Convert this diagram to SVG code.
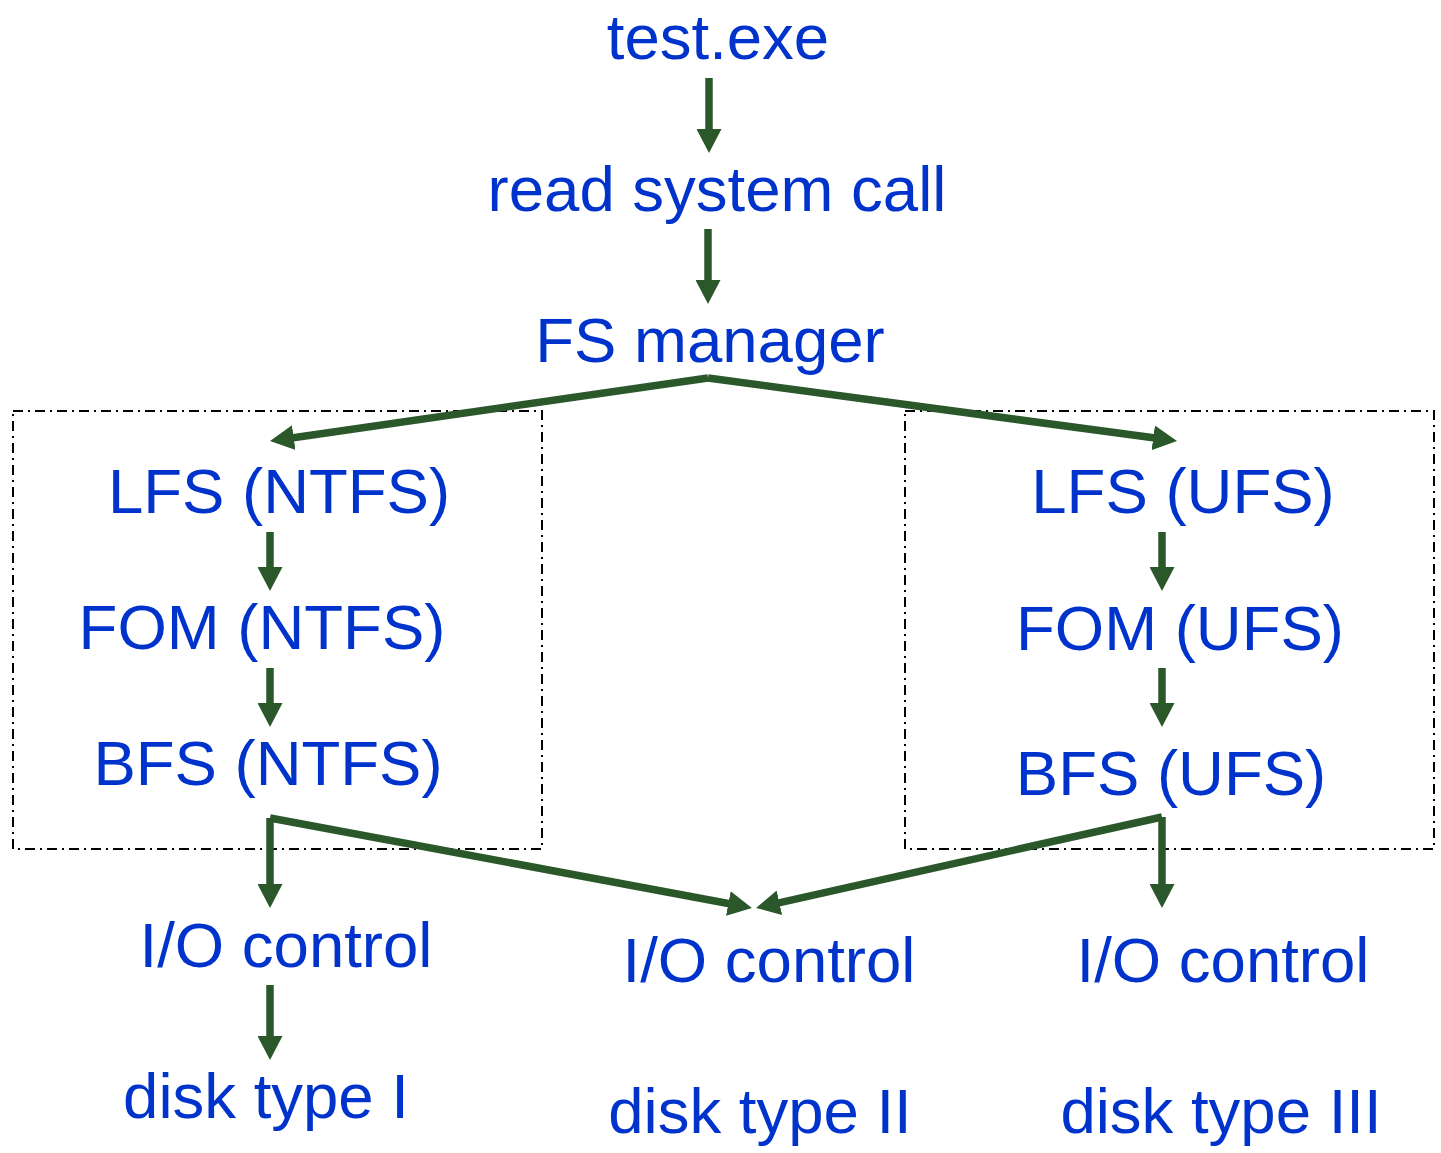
<svg xmlns="http://www.w3.org/2000/svg" width="1441" height="1153" viewBox="0 0 1441 1153">
<style>
.t{font-family:"Liberation Sans",Arial,sans-serif;font-size:63.5px;fill:#0033CC;text-anchor:middle}
.c{fill:none;stroke:#2A582A;stroke-width:7.5;marker-end:url(#ah)}
.box{fill:none;stroke:#000;stroke-width:2;stroke-dasharray:10 5 2 5}
</style>
<defs>
<marker id="ah" markerUnits="userSpaceOnUse" viewBox="0 0 24 25" markerWidth="24" markerHeight="25" refX="4" refY="12.5" orient="auto">
<path d="M0,0 L24,12.5 L0,25 z" fill="#2A582A"/>
</marker>
</defs>
<rect width="1441" height="1153" fill="#fff"/>
<g id="groups">
<rect id="box-ntfs" class="box" x="13" y="411" width="529" height="438"/>
<rect id="box-ufs" class="box" x="905" y="411" width="529" height="438"/>
</g>
<g id="connectors">
<path class="c" d="M709,78 V133"/>
<path class="c" d="M708,229 V284"/>
<path class="c" d="M708,378 L289.8,438.2"/>
<path class="c" d="M708,378 L1157.2,438.3"/>
<path class="c" d="M270,532 V571"/>
<path class="c" d="M270,668 V707"/>
<path class="c" d="M1162,532 V571"/>
<path class="c" d="M1162,668 V707"/>
<path class="c" d="M270,818 V888"/>
<path class="c" d="M270,818 L732.3,904.3"/>
<path class="c" d="M1162,817 V888"/>
<path class="c" d="M1162,817 L775.5,903.6"/>
<path class="c" d="M270,985 V1040"/>
</g>
<g id="n-test"><text class="t" x="718" y="59">test.exe</text></g>
<g id="n-read"><text class="t" x="717" y="211">read system call</text></g>
<g id="n-fsm"><text class="t" x="710" y="362">FS manager</text></g>
<g id="n-lfs-ntfs"><text class="t" x="279" y="513">LFS (NTFS)</text></g>
<g id="n-fom-ntfs"><text class="t" x="262" y="649">FOM (NTFS)</text></g>
<g id="n-bfs-ntfs"><text class="t" x="268" y="785">BFS (NTFS)</text></g>
<g id="n-lfs-ufs"><text class="t" x="1183" y="513">LFS (UFS)</text></g>
<g id="n-fom-ufs"><text class="t" x="1180" y="650">FOM (UFS)</text></g>
<g id="n-bfs-ufs"><text class="t" x="1171" y="795">BFS (UFS)</text></g>
<g id="n-io1"><text class="t" x="286" y="967">I/O control</text></g>
<g id="n-io2"><text class="t" x="769" y="982">I/O control</text></g>
<g id="n-io3"><text class="t" x="1223" y="982">I/O control</text></g>
<g id="n-disk1"><text class="t" x="266" y="1118">disk type I</text></g>
<g id="n-disk2"><text class="t" x="760" y="1133">disk type II</text></g>
<g id="n-disk3"><text class="t" x="1221" y="1133">disk type III</text></g>
</svg>
